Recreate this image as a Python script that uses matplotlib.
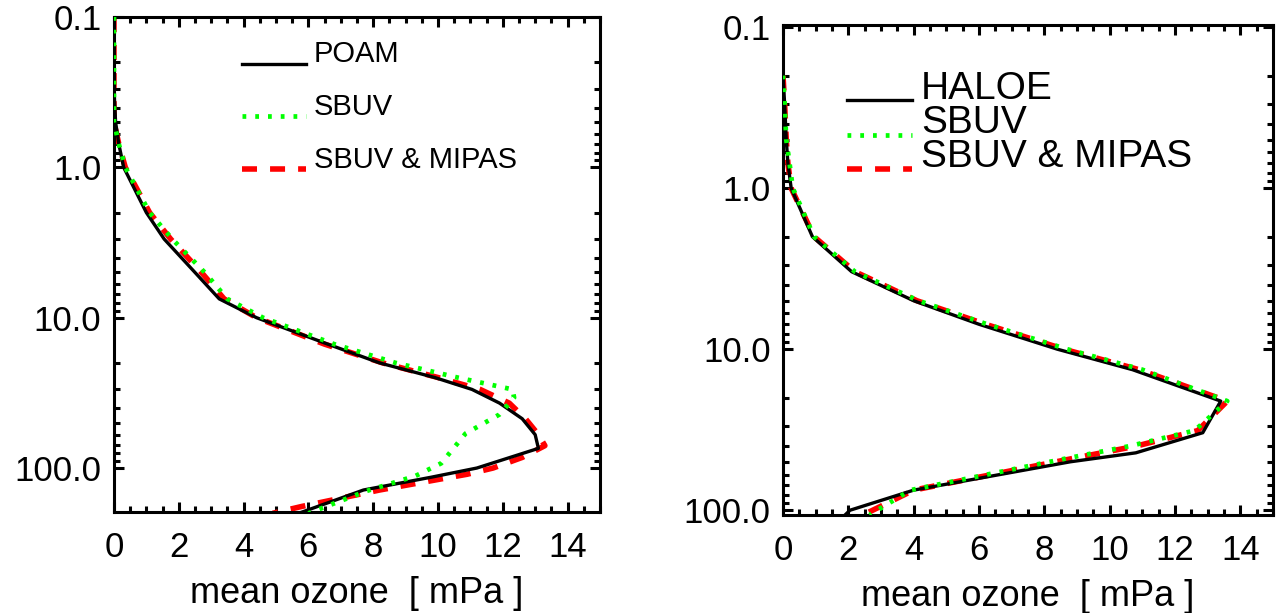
import matplotlib.pyplot as plt
import numpy as np
from matplotlib.legend_handler import HandlerLine2D
from matplotlib.ticker import FixedLocator, LogLocator, MultipleLocator, NullFormatter

plt.rcParams['font.family'] = ['Liberation Sans', 'DejaVu Sans']

# left panel: POAM vs SBUV vs SBUV & MIPAS (pressure hPa, ozone mPa)
p_poam = [0.1, 0.3, 0.5, 0.7, 1.0, 2.0, 3.0, 5.0, 7.5, 10, 15, 20, 25, 30, 37, 47, 60, 74, 100, 115, 140, 200]
oz_poam = [0.0, 0.0, 0.05, 0.15, 0.3, 1.0, 1.55, 2.5, 3.25, 4.4, 6.6, 8.2, 9.9, 11.05, 11.9, 12.6, 13.0, 13.1, 11.2, 9.8, 7.7, 5.7]

p_sbuv_l = [0.1, 0.2, 0.5, 0.7, 1.0, 2.0, 3.0, 5.0, 7.5, 10, 15, 20, 25, 30, 34, 44, 59, 93, 113, 142, 200]
oz_sbuv_l = [0.0, 0.0, 0.0, 0.15, 0.35, 1.1, 1.8, 2.8, 3.5, 4.6, 6.8, 8.7, 10.6, 12.3, 12.35, 11.9, 10.85, 10.1, 9.3, 7.8, 6.0]

p_mipas_l = [0.1, 0.5, 0.7, 1.0, 2.0, 3.0, 5.0, 7.5, 10, 15, 20, 25, 30, 37, 47, 60, 71, 85, 100, 110, 140, 180, 200]
oz_mipas_l = [0.0, 0.0, 0.15, 0.35, 1.1, 1.75, 2.7, 3.4, 4.4, 6.5, 8.3, 10.0, 11.3, 12.2, 12.7, 13.1, 13.3, 12.6, 11.7, 10.9, 8.2, 5.8, 4.9]

# right panel: HALOE vs SBUV vs SBUV & MIPAS
p_haloe = [0.2, 0.3, 0.5, 0.7, 1.0, 2.0, 3.3, 5.0, 7.0, 10, 13.4, 21, 33, 44, 50, 75, 100, 107]
oz_haloe = [0.0, 0.05, 0.1, 0.15, 0.25, 0.9, 2.1, 4.0, 6.0, 8.4, 10.7, 13.4, 12.85, 10.8, 8.8, 4.0, 2.05, 1.9]

p_sbuv_r = [0.2, 0.3, 0.5, 0.7, 1.0, 2.0, 3.3, 5.0, 7.0, 10, 13.4, 21, 32, 40, 48, 75, 107]
oz_sbuv_r = [0.0, 0.05, 0.1, 0.2, 0.3, 0.95, 2.2, 4.15, 6.25, 8.7, 11.0, 13.6, 12.6, 10.6, 8.6, 3.9, 2.65]

p_mipas_r = [0.2, 0.3, 0.5, 0.7, 1.0, 2.0, 3.3, 5.0, 7.0, 10, 13.4, 21, 32, 40, 48, 75, 107]
oz_mipas_r = [0.0, 0.05, 0.1, 0.15, 0.25, 0.95, 2.2, 4.1, 6.2, 8.6, 10.9, 13.6, 12.7, 10.8, 8.8, 4.0, 2.45]

p_ticks = [0.1, 1.0, 10.0, 100.0]
p_ticklabels = ['0.1', '1.0', '10.0', '100.0']


class BaselineLine(HandlerLine2D):
    # put the legend line on the text baseline, like IDL does
    def create_artists(self, legend, orig_handle, xdescent, ydescent, width, height, fontsize, trans):
        arts = super().create_artists(legend, orig_handle, xdescent, ydescent, width, height, fontsize, trans)
        for a in arts:
            a.set_ydata(np.zeros_like(a.get_ydata()) - 1.0)
        return arts


def style(ax, ylim):
    ax.set_yscale('log')
    ax.set_xlim(0, 15)
    ax.set_ylim(ylim)
    ax.xaxis.set_major_locator(MultipleLocator(2))
    ax.xaxis.set_minor_locator(MultipleLocator(0.5))
    ax.yaxis.set_major_locator(FixedLocator(p_ticks))
    ax.yaxis.set_minor_locator(LogLocator(subs=np.arange(2, 10)))
    ax.yaxis.set_minor_formatter(NullFormatter())
    ax.set_yticklabels(p_ticklabels)
    ax.tick_params(which='both', direction='in', top=True, right=True, width=2.2, labelsize=25)
    ax.tick_params(which='major', length=7.5, pad=9)
    ax.tick_params(which='minor', length=4)
    ax.tick_params(axis='x', which='major', pad=14)
    for s in ax.spines.values():
        s.set_linewidth(2.2)
    ax.set_xlabel('mean ozone  [ mPa ]', fontsize=26, labelpad=8)


fig = plt.figure(figsize=(12.79, 6.13), dpi=100)
ax1 = fig.add_axes([0.0891, 0.1648, 0.380, 0.8075])
ax2 = fig.add_axes([0.6122, 0.1599, 0.3831, 0.7993])

red_kw = dict(color='red', lw=4.0, ls=(0, (2.7, 2.35)), zorder=2)
blk_kw = dict(color='black', lw=2.4, ls='-', zorder=3)
grn_kw = dict(color='#00ff00', lw=3.4, ls=(0, (0.8, 1.9)), zorder=4)

l3, = ax1.plot(oz_mipas_l, p_mipas_l, label='SBUV & MIPAS', **red_kw)
l1, = ax1.plot(oz_poam, p_poam, label='POAM', **blk_kw)
l2, = ax1.plot(oz_sbuv_l, p_sbuv_l, label='SBUV', **grn_kw)
style(ax1, (196, 0.1))
ax1.legend(handles=[l1, l2, l3], loc='upper left', bbox_to_anchor=(0.263, 0.953),
           frameon=False, fontsize=21, handlelength=2.2, handletextpad=0.27,
           labelspacing=0.85, borderpad=0, borderaxespad=0,
           handler_map={plt.Line2D: BaselineLine()})

r3, = ax2.plot(oz_mipas_r, p_mipas_r, label='SBUV & MIPAS', **red_kw)
r1, = ax2.plot(oz_haloe, p_haloe, label='HALOE', **blk_kw)
r2, = ax2.plot(oz_sbuv_r, p_sbuv_r, label='SBUV', **grn_kw)
style(ax2, (107, 0.097))
ax2.legend(handles=[r1, r2, r3], loc='upper left', bbox_to_anchor=(0.131, 0.906),
           frameon=False, fontsize=28, handlelength=1.67, handletextpad=0.23,
           labelspacing=-0.05, borderpad=0, borderaxespad=0,
           handler_map={plt.Line2D: BaselineLine()})

fig.savefig('out.png', dpi=100)
